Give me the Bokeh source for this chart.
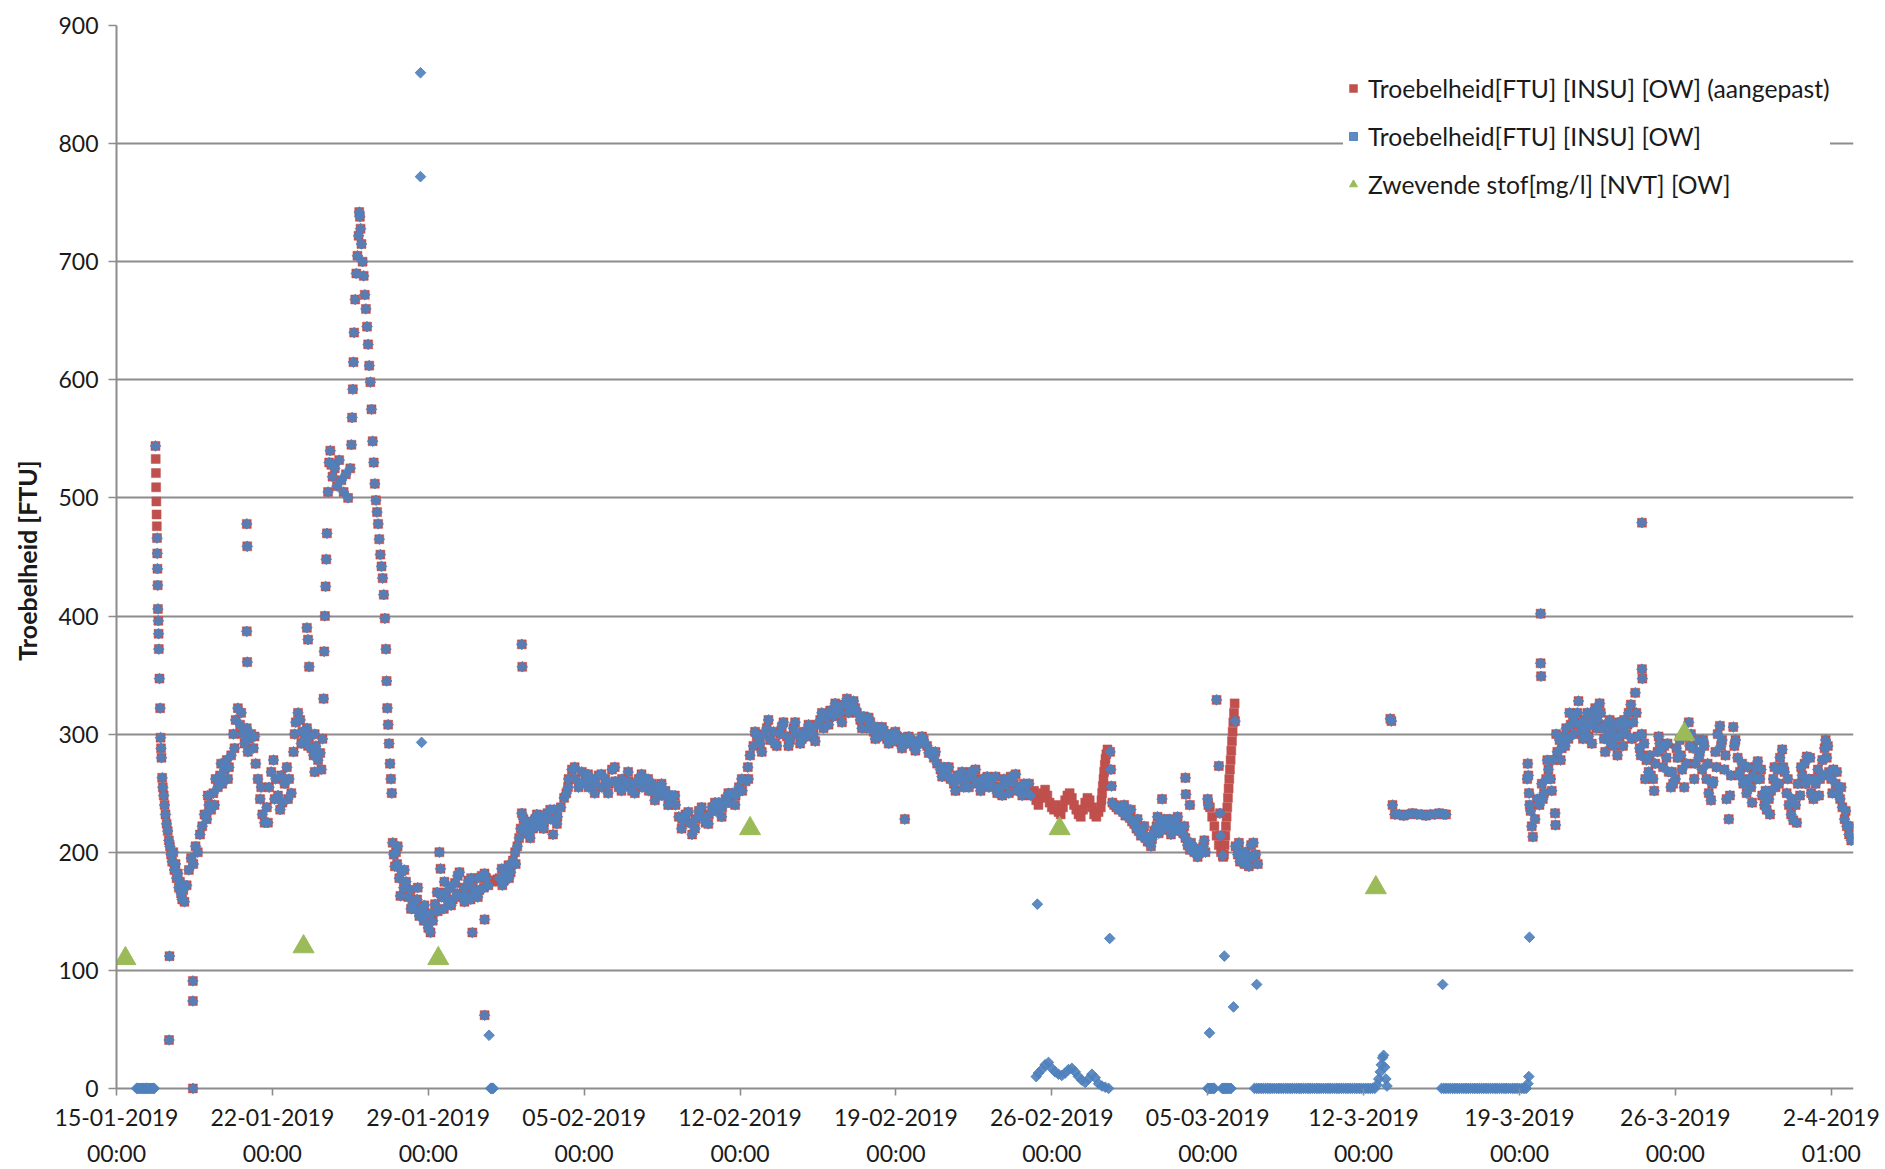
import numpy as np
from bokeh.plotting import figure
from bokeh.models import Range1d, FixedTicker, Legend, LegendItem
from bokeh.embed import file_html
from bokeh.resources import INLINE

# ---------------- data (x = days since 15-01-2019 00:00) ----------------
x_tick_dagen = [0, 7, 14, 21, 28, 35, 42, 49, 56, 63, 70, 77]
x_tick_labels = ["15-01-2019\n00:00", "22-01-2019\n00:00", "29-01-2019\n00:00",
                 "05-02-2019\n00:00", "12-02-2019\n00:00", "19-02-2019\n00:00",
                 "26-02-2019\n00:00", "05-03-2019\n00:00", "12-3-2019\n00:00",
                 "19-3-2019\n00:00", "26-3-2019\n00:00", "2-4-2019\n01:00"]
y_ticks = [0, 100, 200, 300, 400, 500, 600, 700, 800, 900]

# points present in both turbidity series (day, FTU)
jan_beide = [
    (1.75, 544), (1.82, 466), (1.83, 453), (1.84, 440), (1.85, 426), (1.86, 406), (1.88, 396),
    (1.89, 385), (1.9, 372), (1.93, 347), (1.96, 322), (1.98, 297), (2.0, 288), (2.02, 280),
    (2.05, 263), (2.08, 255), (2.12, 248), (2.16, 240), (2.2, 232), (2.25, 224), (2.3, 218),
    (2.35, 210), (2.4, 205), (2.45, 198), (2.5, 192), (2.55, 200), (2.6, 185), (2.65, 190),
    (2.7, 178), (2.75, 182), (2.8, 170), (2.85, 175), (2.9, 165), (2.95, 160), (3.0, 168),
    (3.05, 158), (2.38, 112), (2.36, 41), (3.43, 91), (3.43, 74), (3.43, 0),
    (3.15, 172), (3.25, 185), (3.35, 195), (3.45, 190), (3.55, 205), (3.65, 200), (3.75, 215),
    (3.85, 222), (3.95, 232), (4.05, 228), (4.15, 240), (4.25, 236), (4.35, 250), (4.45, 262),
    (4.55, 255), (4.65, 265), (4.75, 258), (4.85, 270), (4.95, 278), (5.05, 272), (5.15, 282),
    (5.25, 300), (5.35, 312), (5.45, 322), (5.55, 308), (5.65, 300), (5.75, 292), (5.85, 305),
    (5.95, 296), (6.05, 300), (6.15, 288), (6.25, 275), (6.35, 262), (6.45, 245), (6.55, 232),
    (6.65, 225), (6.75, 238), (6.85, 255), (6.95, 268), (7.05, 278), (7.15, 262), (7.25, 248),
    (7.35, 236), (7.45, 242), (7.55, 258), (7.65, 272), (7.75, 262), (7.85, 250), (7.95, 285),
    (8.05, 310), (8.15, 318), (8.25, 312), (8.35, 302), (8.45, 296), (8.55, 305), (8.65, 298),
    (8.75, 288), (8.85, 282), (8.95, 290), (9.05, 278), (9.15, 284), (9.25, 296),
    (5.85, 478), (5.87, 459), (5.85, 387), (5.87, 361), (8.55, 390), (8.6, 380), (8.65, 357),
    (8.9, 268),
    (9.3, 330), (9.33, 370), (9.36, 400), (9.39, 425), (9.42, 448), (9.45, 470), (9.5, 505),
    (9.55, 530), (9.6, 540), (9.65, 528), (9.7, 518), (9.8, 525), (9.9, 510), (10.0, 532),
    (10.1, 515), (10.2, 505), (10.3, 520), (10.4, 500), (10.5, 525), (10.55, 545), (10.58, 568),
    (10.61, 592), (10.64, 615), (10.67, 640), (10.72, 668), (10.77, 690), (10.82, 705),
    (10.87, 722), (10.9, 742), (10.93, 738), (10.96, 728), (11.0, 715), (11.05, 700),
    (11.1, 688), (11.15, 672), (11.2, 660), (11.25, 645), (11.3, 630), (11.35, 612),
    (11.4, 598), (11.45, 575), (11.5, 548), (11.55, 530), (11.6, 512), (11.65, 498),
    (11.7, 488), (11.75, 478), (11.8, 465), (11.85, 452), (11.9, 442), (11.95, 432),
    (12.0, 418), (12.05, 398), (12.1, 372), (12.13, 345), (12.16, 322), (12.2, 308),
    (12.24, 292), (12.28, 275), (12.32, 262), (12.36, 250),
    (12.4, 208), (12.45, 198), (12.5, 188), (12.55, 200), (12.6, 190), (12.7, 178), (12.75, 163),
    (12.8, 184), (12.9, 170), (13.0, 175), (13.1, 162), (13.2, 168), (13.3, 156), (13.4, 152),
    (13.5, 160), (13.6, 146), (13.7, 152), (13.8, 142), (13.9, 147), (14.0, 136), (14.1, 132),
    (14.2, 142), (14.3, 156), (14.4, 166), (14.5, 200), (14.55, 186), (14.6, 162), (14.7, 152),
    (14.8, 166), (14.9, 158), (15.0, 170), (15.1, 160), (15.2, 174), (15.3, 165), (15.4, 183),
    (15.5, 162), (15.6, 170), (15.7, 164), (15.8, 176), (15.9, 160), (16.0, 170), (16.1, 166),
    (16.2, 178), (16.3, 168), (16.4, 180), (16.5, 170), (16.6, 178), (16.7, 172),
    (15.98, 132), (16.53, 143), (16.53, 62),
    (17.2, 178), (17.3, 186), (17.4, 176), (17.5, 181), (17.6, 189), (17.7, 183), (17.8, 193),
    (17.9, 200), (18.0, 205), (18.08, 212), (18.15, 220), (18.2, 233), (18.3, 218), (18.4, 223),
    (18.5, 216), (18.6, 226), (18.7, 220), (18.8, 228), (18.9, 222), (19.0, 227), (19.1, 231),
    (19.2, 225), (19.35, 233), (19.5, 228), (19.65, 236), (19.8, 230), (19.95, 238), (20.1, 246),
    (18.2, 376), (18.22, 357), (19.6, 215),
]
feb_beide = [
    (20.2, 250), (20.3, 262), (20.45, 270), (20.6, 262), (20.75, 255), (20.9, 268), (21.05, 260),
    (21.2, 255), (21.35, 262), (21.5, 258), (21.65, 265), (21.8, 255), (21.95, 262), (22.1, 258),
    (22.25, 270), (22.4, 260), (22.55, 255), (22.7, 262), (22.85, 256), (23.0, 260), (23.15, 252),
    (23.3, 258), (23.45, 262), (23.6, 255), (23.75, 260), (23.9, 252), (24.05, 258), (24.2, 250),
    (24.35, 255), (24.5, 248), (24.65, 252), (24.8, 245), (24.95, 248), (25.1, 240), (25.25, 230),
    (25.4, 228), (25.55, 232), (25.7, 225), (25.85, 215), (26.0, 228), (26.15, 235), (26.3, 230),
    (26.45, 225), (26.6, 232), (26.75, 238), (26.9, 235), (27.05, 242), (27.2, 238), (27.35, 245),
    (27.5, 242), (27.65, 250), (27.8, 248), (27.95, 255), (28.1, 252), (28.25, 260), (28.35, 272),
    (28.45, 282),
    (28.6, 290), (28.75, 298), (28.9, 292), (29.05, 300), (29.2, 305), (29.35, 295), (29.5, 302),
    (29.65, 290), (29.8, 300), (29.95, 310), (30.1, 298), (30.25, 295), (30.4, 305), (30.55, 300),
    (30.7, 292), (30.85, 302), (31.0, 298), (31.15, 305), (31.3, 300), (31.45, 308), (31.6, 312),
    (31.75, 305), (31.9, 315), (32.05, 320), (32.2, 315), (32.35, 322), (32.5, 318), (32.65, 325),
    (32.8, 330), (32.95, 322), (33.1, 328), (33.25, 318), (33.4, 312), (33.55, 315), (33.7, 305),
    (33.85, 310), (34.0, 302), (34.15, 306), (34.3, 298), (34.45, 303), (34.6, 296), (34.75, 300),
    (34.9, 294), (35.05, 298), (35.2, 293), (35.35, 297), (35.5, 292), (35.65, 295), (35.8, 290),
    (35.95, 294), (36.1, 292), (36.25, 295), (36.4, 290), (36.55, 285), (36.7, 280), (36.85, 275),
    (37.0, 270), (37.15, 272), (37.3, 266), (37.45, 262), (37.6, 258), (37.75, 265), (37.9, 262),
    (38.05, 255), (38.2, 262), (38.35, 268), (38.5, 262), (38.65, 258), (38.8, 252), (38.95, 258),
    (39.1, 264), (39.25, 262), (39.4, 256), (39.55, 250), (39.7, 255), (39.85, 262), (40.0, 258),
    (40.15, 264), (40.3, 258), (40.45, 252), (40.6, 255), (40.75, 258), (40.9, 250), (41.05, 248),
    (35.4, 228),
]
mrt_beide = [
    (44.62, 285), (44.65, 270), (44.68, 256), (44.72, 242), (44.8, 240), (44.9, 238), (45.0, 236),
    (45.1, 239), (45.2, 234), (45.3, 231), (45.4, 233), (45.5, 229), (45.6, 226), (45.7, 224),
    (45.8, 220), (45.9, 218), (46.0, 214), (46.1, 216), (46.2, 212), (46.3, 209), (46.4, 213),
    (46.5, 211), (46.6, 218), (46.7, 222), (46.8, 216), (46.9, 224), (47.0, 219), (47.1, 226),
    (47.2, 221), (47.3, 228), (47.4, 222), (47.5, 219), (47.6, 224), (47.7, 218), (47.8, 221),
    (47.9, 216), (48.0, 212), (48.1, 206), (48.2, 202), (48.3, 204), (48.4, 200), (48.5, 203),
    (48.6, 199), (48.7, 202), (48.8, 205), (48.9, 200), (49.0, 245), (49.03, 240),
    (46.95, 245), (48.0, 263), (48.02, 249), (48.2, 240), (49.4, 329), (49.5, 273), (49.55, 233),
    (49.6, 214), (49.68, 197), (50.23, 311),
    (50.25, 205), (50.35, 198), (50.45, 192), (50.55, 200), (50.65, 190), (50.75, 195),
    (50.85, 188), (50.95, 206), (51.05, 208), (51.15, 198), (51.25, 190),
    (57.2, 313), (57.25, 311), (57.3, 240), (57.4, 232), (57.6, 232), (57.8, 231), (58.0, 232),
    (58.2, 233), (58.4, 232), (58.6, 232), (58.8, 231), (59.0, 232), (59.2, 232), (59.4, 233),
    (59.6, 232), (59.7, 232),
]
apr_beide = [
    (63.35, 262), (63.37, 275), (63.4, 265), (63.43, 250), (63.46, 240), (63.5, 235),
    (63.55, 222), (63.6, 213), (63.7, 228), (63.8, 245), (63.9, 240), (64.0, 258), (64.1, 250),
    (64.2, 262), (64.3, 270), (64.4, 262), (64.5, 278), (64.7, 285), (64.8, 295), (64.9, 288),
    (65.0, 298), (65.1, 305), (65.2, 296), (65.3, 308), (65.4, 315), (65.5, 310), (65.6, 318),
    (65.7, 308), (65.8, 302), (65.9, 312), (66.0, 305), (66.1, 298), (66.2, 308), (66.3, 315),
    (66.4, 322), (66.5, 312), (66.6, 326), (66.7, 305), (66.8, 296), (66.9, 308), (67.0, 300),
    (67.1, 292), (67.2, 305), (67.3, 298), (67.4, 282), (67.5, 298), (67.6, 305), (67.7, 312),
    (67.8, 300), (67.9, 318), (68.0, 325), (68.1, 310), (68.2, 335), (68.3, 298), (68.4, 288),
    (68.5, 300), (68.6, 292), (68.7, 278), (68.8, 268), (68.9, 265), (69.0, 262), (69.1, 275),
    (69.2, 285), (69.3, 292), (69.4, 288), (69.5, 290), (69.6, 280), (69.7, 268), (69.8, 255),
    (69.9, 258),
    (64.6, 233), (64.62, 223), (63.95, 402), (63.95, 360), (63.97, 349), (68.5, 479),
    (68.5, 355), (68.52, 347),
    (70.0, 262), (70.1, 280), (70.2, 295), (70.3, 270), (70.4, 255), (70.5, 275), (70.6, 310),
    (70.7, 300), (70.8, 288), (70.9, 275), (71.0, 295), (71.1, 285), (71.2, 270), (71.3, 290),
    (71.4, 262), (71.5, 250), (71.6, 244), (71.7, 260), (71.8, 285), (71.9, 300), (72.0, 307),
    (72.1, 295), (72.2, 270), (72.3, 245), (72.4, 228), (72.5, 265), (72.6, 306), (72.7, 295),
    (72.8, 280), (72.9, 268), (73.0, 275), (73.1, 260), (73.2, 250), (73.3, 262), (73.4, 255),
    (73.5, 265), (73.6, 272), (73.7, 277), (73.8, 262), (73.9, 248), (74.0, 240), (74.1, 236),
    (74.2, 245), (74.3, 252), (74.4, 262), (74.5, 255), (74.6, 270), (74.7, 280), (74.8, 287),
    (74.9, 268), (75.0, 250), (75.1, 240), (75.2, 232), (75.3, 227), (75.4, 240), (75.5, 258),
    (75.6, 248), (75.7, 265), (75.8, 275), (75.9, 281), (76.0, 262), (76.1, 250), (76.2, 245),
    (76.3, 258), (76.4, 270), (76.5, 262), (76.6, 278), (76.7, 288), (76.75, 295), (76.8, 280),
    (76.9, 268), (77.0, 262), (77.1, 270), (77.2, 258), (77.3, 250), (77.4, 245), (77.5, 238),
    (77.6, 228), (77.7, 222), (77.8, 215), (77.9, 210),
]
# extra readings that give the band its spread (both series)
spreiding_beide = [
    (4.1, 248), (4.4, 240), (4.7, 275), (5.0, 262), (5.3, 288), (5.6, 318), (5.9, 285),
    (6.2, 298), (6.5, 255), (6.8, 225), (7.1, 245), (7.4, 265), (7.7, 245), (8.0, 300),
    (8.3, 292), (8.6, 290), (8.9, 300), (9.2, 270),
    (12.625, 205), (12.925, 185), (13.225, 152), (13.525, 170), (13.825, 155), (14.125, 148),
    (14.425, 150), (14.725, 175), (15.025, 155), (15.325, 180), (15.625, 158), (15.925, 178),
    (16.225, 162), (16.525, 182), (17.325, 172), (17.625, 178), (17.925, 190), (18.275, 228),
    (18.575, 212), (18.875, 232), (19.175, 220), (19.475, 236), (19.775, 224),
    (20.275, 255), (20.575, 272), (20.875, 258), (21.175, 266), (21.475, 250), (21.775, 266),
    (22.075, 250), (22.375, 272), (22.675, 252), (22.975, 268), (23.275, 250), (23.575, 266),
    (23.875, 262), (24.175, 244), (24.475, 258), (24.775, 240), (25.075, 248), (25.375, 220),
    (25.675, 234), (25.975, 220), (26.275, 238), (26.575, 224), (26.875, 242), (27.175, 230),
    (27.475, 250), (27.775, 240), (28.075, 262), (28.375, 262), (28.675, 302), (28.975, 285),
    (29.275, 312), (29.575, 292), (29.875, 306), (30.175, 290), (30.475, 310), (30.775, 296),
    (31.075, 308), (31.375, 294), (31.675, 318), (31.975, 308), (32.275, 326), (32.575, 310),
    (32.875, 318), (33.175, 322), (33.475, 305), (33.775, 314), (34.075, 296), (34.375, 306),
    (34.675, 292), (34.975, 302), (35.275, 288), (35.575, 298), (35.875, 286), (36.175, 298),
    (36.475, 284), (36.775, 285), (37.075, 264), (37.375, 272), (37.675, 252), (37.975, 268),
    (38.275, 255), (38.575, 270), (38.875, 262), (39.175, 255), (39.475, 264), (39.775, 248),
    (40.075, 250), (40.375, 266), (40.675, 248), (40.975, 258),
    (45.25, 240), (45.55, 236), (45.85, 228), (46.15, 222), (46.45, 205), (46.75, 230),
    (47.05, 228), (47.35, 215), (47.65, 230), (47.95, 222), (48.25, 208), (48.55, 196),
    (48.85, 210), (50.4, 208), (50.7, 200), (51.0, 196),
    (64.05, 245), (64.25, 278), (64.45, 252), (64.65, 300), (64.85, 278), (65.05, 290),
    (65.25, 318), (65.45, 300), (65.65, 328), (65.85, 296), (66.05, 318), (66.25, 292),
    (66.45, 305), (66.65, 318), (66.85, 285), (67.05, 312), (67.25, 290), (67.45, 310),
    (67.65, 290), (67.85, 308), (68.05, 296), (68.25, 318), (68.45, 282), (68.65, 262),
    (68.85, 282), (69.05, 252), (69.25, 298), (69.45, 272), (69.65, 292), (69.85, 268),
    (70.05, 288), (70.25, 282), (70.45, 298), (70.65, 290), (70.85, 262), (71.05, 280),
    (71.25, 295), (71.45, 275), (71.65, 258), (71.85, 272), (72.05, 290), (72.25, 282),
    (72.45, 248), (72.65, 290), (72.85, 265), (73.05, 258), (73.25, 272), (73.45, 242),
    (73.65, 262), (73.85, 270), (74.05, 252), (74.25, 232), (74.45, 272), (74.65, 258),
    (74.85, 272), (75.05, 262), (75.25, 245), (75.45, 225), (75.65, 272), (75.85, 258),
    (76.05, 280), (76.25, 262), (76.45, 248), (76.65, 265), (76.85, 290), (77.05, 250),
    (77.25, 268), (77.45, 255), (77.65, 235), (77.85, 222),
]

# points only in the adjusted series (aangepast)
aangepast_extra = [
    (1.76, 533), (1.77, 521), (1.78, 509), (1.79, 497), (1.8, 486), (1.81, 476),
    (16.8, 176), (16.9, 175), (17.0, 176), (17.1, 177),
    (41.1, 250), (41.2, 252), (41.3, 244), (41.4, 240), (41.5, 246), (41.6, 250), (41.7, 253),
    (41.8, 248), (41.9, 242), (42.0, 238), (42.1, 236), (42.2, 240), (42.3, 234), (42.4, 232),
    (42.5, 238), (42.6, 244), (42.7, 248), (42.8, 250), (42.9, 246), (43.0, 240), (43.1, 236),
    (43.2, 232), (43.3, 230), (43.4, 236), (43.5, 242), (43.6, 246), (43.7, 244), (43.8, 238),
    (43.9, 232), (44.0, 230), (44.1, 234), (44.2, 238), (44.23, 244), (44.26, 250), (44.29, 256),
    (44.32, 262), (44.35, 268), (44.38, 274), (44.41, 279), (44.45, 283), (44.5, 287),
    (49.1, 238), (49.2, 230), (49.3, 222), (49.4, 214), (49.5, 206), (49.6, 200), (49.7, 196),
    (49.73, 198), (49.76, 206), (49.79, 214), (49.82, 222), (49.85, 230), (49.88, 238),
    (49.91, 246), (49.94, 254), (49.97, 262), (50.0, 270), (50.03, 278), (50.06, 286),
    (50.09, 294), (50.12, 302), (50.15, 310), (50.18, 318), (50.21, 326),
]

# points only in the raw series (blue)
ruw_extra = [
    (0.9, 0), (0.95, 0), (1.0, 0), (1.05, 0), (1.1, 0), (1.15, 0), (1.2, 0), (1.25, 0),
    (1.3, 0), (1.35, 0), (1.4, 0), (1.45, 0), (1.5, 0), (1.55, 0), (1.6, 0), (1.65, 0), (1.7, 0),
    (13.65, 860), (13.65, 772), (13.7, 293),
    (16.73, 45), (16.8, 0), (16.84, 0), (16.88, 0), (16.92, 0),
    (41.35, 156), (41.3, 10), (41.4, 13), (41.55, 16), (41.7, 20), (41.85, 22), (42.0, 17),
    (42.15, 14), (42.3, 12), (42.45, 11), (42.6, 13), (42.75, 16), (42.9, 17), (43.05, 14),
    (43.2, 10), (43.35, 7), (43.5, 5), (43.65, 8), (43.8, 12), (43.95, 9), (44.1, 4),
    (44.25, 2), (44.4, 1), (44.55, 0), (44.6, 127),
    (49.0, 0), (49.05, 0), (49.1, 0), (49.15, 0), (49.2, 0), (49.25, 0), (49.3, 0),
    (49.65, 0), (49.7, 0), (49.75, 0), (49.8, 0), (49.85, 0), (49.9, 0), (49.95, 0),
    (50.0, 0), (50.05, 0), (49.08, 47), (49.75, 112), (50.16, 69), (51.2, 88),
    (51.1, 0), (51.2, 0), (51.3, 0), (51.4, 0), (51.5, 0), (51.6, 0), (51.7, 0), (51.8, 0),
    (51.9, 0), (52.0, 0), (52.1, 0), (52.2, 0), (52.3, 0), (52.4, 0), (52.5, 0), (52.6, 0),
    (52.7, 0), (52.8, 0), (52.9, 0), (53.0, 0), (53.1, 0), (53.2, 0), (53.3, 0), (53.4, 0),
    (53.5, 0), (53.6, 0), (53.7, 0), (53.8, 0), (53.9, 0), (54.0, 0), (54.1, 0), (54.2, 0),
    (54.3, 0), (54.4, 0), (54.5, 0), (54.6, 0), (54.7, 0), (54.8, 0), (54.9, 0), (55.0, 0),
    (55.1, 0), (55.2, 0), (55.3, 0), (55.4, 0), (55.5, 0), (55.6, 0), (55.7, 0), (55.8, 0),
    (55.9, 0), (56.0, 0), (56.1, 0), (56.2, 0), (56.3, 0), (56.4, 0), (56.5, 0),
    (56.6, 3), (56.68, 8), (56.75, 14), (56.8, 20), (56.85, 26), (56.9, 28), (56.95, 18),
    (57.0, 8), (57.05, 2),
    (59.55, 88), (59.5, 0), (59.6, 0), (59.7, 0), (59.8, 0), (59.9, 0), (60.0, 0), (60.1, 0),
    (60.2, 0), (60.3, 0), (60.4, 0), (60.5, 0), (60.6, 0), (60.7, 0), (60.8, 0), (60.9, 0),
    (61.0, 0), (61.1, 0), (61.2, 0), (61.3, 0), (61.4, 0), (61.5, 0), (61.6, 0), (61.7, 0),
    (61.8, 0), (61.9, 0), (62.0, 0), (62.1, 0), (62.2, 0), (62.3, 0), (62.4, 0), (62.5, 0),
    (62.6, 0), (62.7, 0), (62.8, 0), (62.9, 0), (63.0, 0), (63.1, 0), (63.2, 0), (63.3, 0),
    (63.38, 4), (63.42, 10), (63.45, 128),
]

# suspended solids samples (day, mg/l)
zwevende_stof = [(0.4, 110), (8.4, 120), (14.45, 110), (28.45, 220), (42.35, 220),
                 (56.55, 170), (70.4, 300)]

# ---------------- build ----------------
def unzip(pairs):
    return [d for d, _ in pairs], [v for _, v in pairs]

beide = jan_beide + feb_beide + mrt_beide + apr_beide + spreiding_beide
adj_x, adj_y = unzip(beide + aangepast_extra)
ruw_x, ruw_y = unzip(beide + ruw_extra)
zs_x, zs_y = unzip(zwevende_stof)

RED = "#c0504d"
BLUE = "#4f81bd"
GREEN = "#9bbb59"
GRID = "#8c8c8c"
FONT = "Lato"

# a little room below 0 so that markers at 0 are not cut off by the frame
p = figure(width=1885, height=1169, output_backend="svg", toolbar_location=None,
           x_range=Range1d(0, 78), y_range=Range1d(-6, 900),
           min_border_left=116, min_border_right=32, min_border_top=25, min_border_bottom=74,
           background_fill_color="white", border_fill_color="white")
p.outline_line_color = None

r_adj = p.scatter(adj_x, adj_y, marker="square", size=9, fill_color=RED, line_color=RED,
                  line_width=0.5)
r_ruw = p.scatter(ruw_x, ruw_y, marker="square", angle=np.pi / 4, size=7.5,
                  fill_color=BLUE, line_color=BLUE, fill_alpha=0.92, line_alpha=0.92)
r_zs = p.scatter(zs_x, zs_y, marker="triangle", size=21, fill_color=GREEN, line_color=GREEN)

# axes
p.xgrid.visible = False
p.ygrid.grid_line_color = GRID
p.ygrid.grid_line_width = 1.8
p.ygrid.ticker = FixedTicker(ticks=y_ticks)

p.yaxis.ticker = FixedTicker(ticks=y_ticks)
p.yaxis.bounds = (0, 900)
p.xaxis.ticker = FixedTicker(ticks=x_tick_dagen)
p.xaxis.major_label_overrides = {d: lab for d, lab in zip(x_tick_dagen, x_tick_labels)}

for ax in (p.xaxis[0], p.yaxis[0]):
    ax.axis_line_color = GRID
    ax.axis_line_width = 2
    ax.major_tick_line_color = GRID
    ax.major_tick_line_width = 1.6
    ax.minor_tick_line_color = None
    ax.major_label_text_font = FONT
    ax.major_label_text_font_size = "23px"
    ax.major_label_text_color = "#1a1a1a"

p.yaxis.major_tick_in = 0
p.yaxis.major_tick_out = 8
p.yaxis.major_label_standoff = 10
p.yaxis.axis_label = "Troebelheid [FTU]"
p.yaxis.axis_label_text_font = FONT
p.yaxis.axis_label_text_font_style = "bold"
p.yaxis.axis_label_text_font_size = "25px"
p.yaxis.axis_label_text_color = "#1a1a1a"
p.yaxis.axis_label_standoff = 13

# the zero gridline acts as the x-axis line; ticks hang 7px below it
p.xaxis.axis_line_color = None
p.xaxis.major_tick_in = 7
p.xaxis.major_tick_out = 0
p.xaxis.major_label_standoff = 7
p.xaxis.major_label_text_line_height = 1.3

legend = Legend(items=[
    LegendItem(label="Troebelheid[FTU] [INSU] [OW] (aangepast)", renderers=[r_adj]),
    LegendItem(label="Troebelheid[FTU] [INSU] [OW]", renderers=[r_ruw]),
    LegendItem(label="Zwevende stof[mg/l] [NVT] [OW]", renderers=[r_zs]),
], location=(1227, 891))
legend.label_text_font = FONT
legend.label_text_font_size = "24.7px"
legend.label_text_color = "#1a1a1a"
legend.glyph_width = 20
legend.glyph_height = 20
legend.label_height = 40
legend.spacing = 8
legend.padding = 10
legend.label_standoff = 5
legend.border_line_color = None
legend.background_fill_color = "white"
legend.background_fill_alpha = 1.0
p.add_layout(legend)

open("out.html", "w").write(file_html(p, INLINE))
